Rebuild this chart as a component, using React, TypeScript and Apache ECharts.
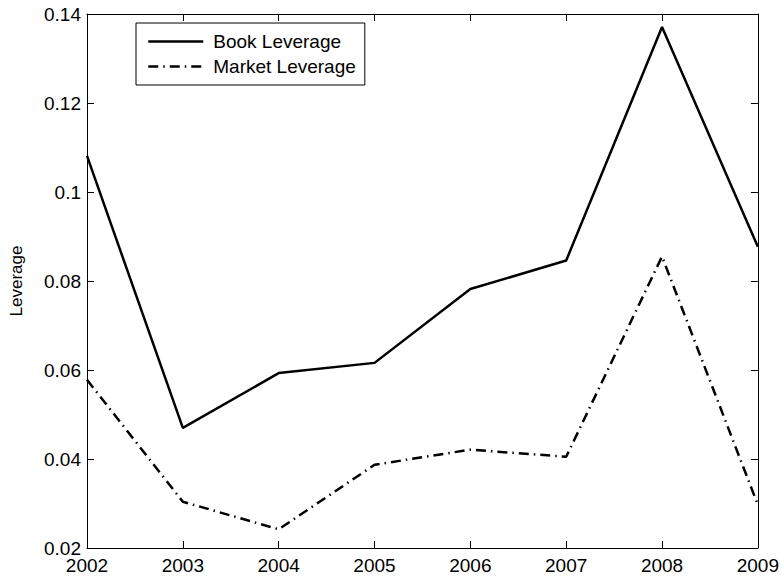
import React, { useEffect, useRef } from "react";
import * as echarts from "echarts";

const years = ["2002", "2003", "2004", "2005", "2006", "2007", "2008", "2009"];
const bookLeverage = [0.1081, 0.047, 0.0593, 0.0616, 0.0782, 0.0846, 0.1371, 0.0877];
const marketLeverage = [0.0578, 0.0304, 0.0242, 0.0387, 0.0421, 0.0405, 0.0855, 0.0297];
const yTicks = { min: 0.02, max: 0.14, interval: 0.02 };

const FONT = "'Liberation Sans', Arial, Helvetica, sans-serif";

export default function App() {
  const ref = useRef<HTMLDivElement>(null);
  useEffect(() => {
    if (!ref.current) return;
    const chart = echarts.init(ref.current, undefined, { renderer: "svg" });
    const axisLine = { show: true, lineStyle: { color: "#000", width: 1 } };
    const axisTick = { show: true, inside: true, length: 7, lineStyle: { color: "#000", width: 1 } };
    chart.setOption({
      animation: false,
      backgroundColor: "#fff",
      grid: { left: 82, right: 24, top: 14, bottom: 30, containLabel: false },
      legend: {
        left: 136,
        top: 23,
        orient: "vertical",
        borderColor: "#000",
        borderWidth: 1,
        backgroundColor: "#fff",
        padding: [9, 9, 9, 11],
        itemGap: 6,
        itemWidth: 55,
        itemHeight: 16,
        itemStyle: { opacity: 0 },
        lineStyle: { opacity: 1, width: 2.5 },
        textStyle: { fontFamily: FONT, fontSize: 19, color: "#000", padding: [0, 0, 0, 5] },
        data: ["Book Leverage", "Market Leverage"],
      },
      xAxis: [
        {
          type: "category",
          data: years,
          boundaryGap: false,
          axisLine,
          axisTick: { ...axisTick, alignWithLabel: true },
          axisLabel: { fontFamily: FONT, fontSize: 19, color: "#000", margin: 8 },
          splitLine: { show: false },
        },
        {
          type: "category",
          data: years,
          boundaryGap: false,
          position: "top",
          axisLine,
          axisTick,
          axisLabel: { show: false },
          splitLine: { show: false },
        },
      ],
      yAxis: [
        {
          type: "value",
          min: yTicks.min,
          max: yTicks.max,
          interval: yTicks.interval,
          name: "Leverage",
          nameLocation: "middle",
          nameGap: 62,
          nameTextStyle: { fontFamily: FONT, fontSize: 17, color: "#000" },
          axisLine,
          axisTick,
          axisLabel: {
            fontFamily: FONT,
            fontSize: 19,
            color: "#000",
            margin: 6,
            formatter: (v: number) => String(+v.toFixed(2)),
          },
          splitLine: { show: false },
        },
        {
          type: "value",
          min: yTicks.min,
          max: yTicks.max,
          interval: yTicks.interval,
          position: "right",
          axisLine,
          axisTick,
          axisLabel: { show: false },
          splitLine: { show: false },
        },
      ],
      series: [
        {
          name: "Book Leverage",
          type: "line",
          data: bookLeverage,
          symbol: "none",
          lineStyle: { color: "#000", width: 2.5, type: "solid" },
          itemStyle: { color: "#000" },
        },
        {
          name: "Market Leverage",
          type: "line",
          data: marketLeverage,
          symbol: "none",
          lineStyle: { color: "#000", width: 2.5, type: [10, 5, 1.5, 5] },
          itemStyle: { color: "#000" },
        },
      ],
    });
    return () => chart.dispose();
  }, []);
  return (
    <div
      ref={ref}
      style={{ position: "fixed", left: 0, top: 0, width: 782, height: 578 }}
    />
  );
}
